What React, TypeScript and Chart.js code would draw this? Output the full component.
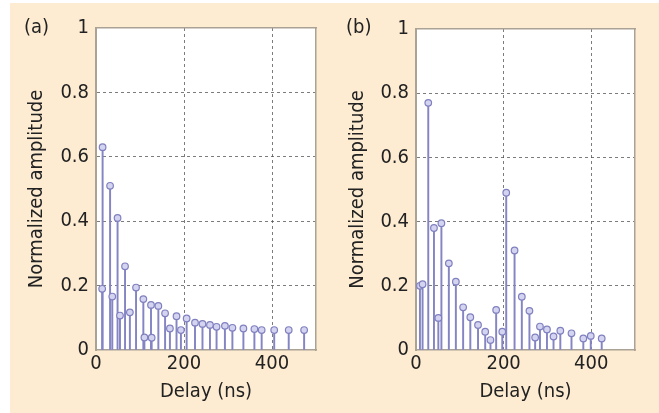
import React, { useEffect, useRef } from "react";
import { Chart, registerables } from "chart.js";

Chart.register(...registerables);

// Panel (a) – delays (ns) and normalized amplitudes
const delaysA = [14, 15, 32, 37, 49, 54.5, 66, 77, 91, 107.6, 110, 125, 126.5, 141.7, 157, 168, 183, 193, 206, 225, 242, 259, 274, 293, 310, 335, 360, 376.5, 405, 438, 473];
const ampsA = [0.19, 0.63, 0.51, 0.166, 0.41, 0.107, 0.26, 0.117, 0.194, 0.158, 0.039, 0.14, 0.038, 0.137, 0.114, 0.067, 0.105, 0.062, 0.098, 0.085, 0.081, 0.078, 0.072, 0.075, 0.069, 0.067, 0.065, 0.062, 0.062, 0.062, 0.062];

// Panel (b)
const delaysB = [9, 15, 28, 41, 51, 58, 75, 91, 107.6, 124, 141.6, 158, 170, 183, 197, 206, 225, 241.6, 259, 272, 283, 299, 314, 329.5, 355, 382, 399, 424];
const ampsB = [0.2, 0.205, 0.77, 0.38, 0.1, 0.395, 0.27, 0.213, 0.133, 0.102, 0.078, 0.057, 0.031, 0.125, 0.057, 0.49, 0.31, 0.166, 0.122, 0.039, 0.073, 0.064, 0.042, 0.06, 0.052, 0.036, 0.044, 0.036];

const xTickStep = 200;
const yTickStep = 0.2;
const xMax = 500;
const yMax = 1;
const xTitle = "Delay (ns)";
const yTitle = "Normalized amplitude";

const FONT = "'Liberation Sans Narrow', 'DejaVu Sans Condensed', 'Noto Sans', sans-serif";
const FRAME = "#aaa294";
const STEM = "#8585c4";

const whiteArea = {
  id: "whiteArea",
  beforeDraw(chart: any) {
    const { ctx, chartArea } = chart;
    ctx.save();
    ctx.fillStyle = "#ffffff";
    ctx.fillRect(chartArea.left, chartArea.top, chartArea.right - chartArea.left, chartArea.bottom - chartArea.top);
    ctx.restore();
  },
};

function makeConfig(xs: number[], ys: number[], yAxisWidth: number, rightPad: number, topPad: number, yTitlePad: number) {
  const pts = xs.map((x, i) => ({ x, y: ys[i] }));
  return {
    type: "scatter",
    data: {
      datasets: [
        {
          type: "bar",
          data: pts,
          backgroundColor: STEM,
          barThickness: 1.3,
          borderWidth: 0,
          order: 2,
        },
        {
          type: "scatter",
          data: pts,
          pointRadius: 3.3,
          pointBackgroundColor: "#d4d4f0",
          pointBorderColor: "#8080c0",
          pointBorderWidth: 1.2,
          order: 1,
        },
      ],
    },
    options: {
      responsive: false,
      animation: false,
      events: [],
      layout: { padding: { left: 0, right: rightPad, top: topPad, bottom: 0 } },
      plugins: { legend: { display: false }, tooltip: { enabled: false } },
      scales: {
        x: {
          type: "linear",
          position: "bottom",
          min: 0,
          max: xMax,
          offset: false,
          afterFit: (s: any) => { s.height = 63; },
          ticks: { stepSize: xTickStep, includeBounds: false, padding: 2, color: "#222", font: { size: 20, family: FONT }, maxRotation: 0 },
          grid: {
            offset: false,
            drawTicks: false,
            lineWidth: 1,
            color: (c: any) => (c.tick && (c.tick.value === 0 || c.tick.value === xMax) ? "transparent" : "rgba(80,80,80,0.75)"),
          },
          border: { color: FRAME, width: 1.5, dash: [3, 3] },
          title: { display: true, text: xTitle, color: "#222", font: { size: 20, family: FONT }, padding: { top: 0, bottom: 9 } },
        },
        y: {
          type: "linear",
          position: "left",
          min: 0,
          max: yMax,
          afterFit: (s: any) => { s.width = yAxisWidth; },
          ticks: {
            stepSize: yTickStep,
            padding: 7,
            color: "#222",
            font: { size: 20, family: FONT },
            callback: (v: any) => String(Number(Number(v).toFixed(1))),
          },
          grid: {
            drawTicks: false,
            lineWidth: 1,
            color: (c: any) => (c.tick && (c.tick.value === 0 || Math.abs(c.tick.value - yMax) < 1e-9) ? "transparent" : "rgba(80,80,80,0.75)"),
          },
          border: { color: FRAME, width: 2, dash: [3, 3] },
          title: { display: true, text: yTitle, color: "#222", font: { size: 20, family: FONT }, padding: { top: yTitlePad, bottom: 0 } },
        },
        x2: {
          type: "linear",
          position: "top",
          min: 0,
          max: xMax,
          afterFit: (s: any) => { s.height = 0; },
          ticks: { display: false },
          grid: { display: false, drawTicks: false },
          border: { color: FRAME, width: 1.5 },
        },
        y2: {
          type: "linear",
          position: "right",
          min: 0,
          max: yMax,
          afterFit: (s: any) => { s.width = 0; },
          ticks: { display: false },
          grid: { display: false, drawTicks: false },
          border: { color: FRAME, width: 1.5 },
        },
      },
    },
    plugins: [whiteArea],
  } as any;
}

function Panel(props: { left: number; width: number; label: string; labelLeft: number; xs: number[]; ys: number[]; yAxisWidth: number; rightPad: number; topPad: number; yTitlePad: number }) {
  const ref = useRef<HTMLCanvasElement>(null);
  useEffect(() => {
    if (!ref.current) return;
    const chart = new Chart(ref.current, makeConfig(props.xs, props.ys, props.yAxisWidth, props.rightPad, props.topPad, props.yTitlePad));
    return () => chart.destroy();
  }, []);
  return (
    <>
      <canvas
        ref={ref}
        width={props.width}
        height={413}
        style={{ position: "fixed", left: props.left, top: 0, width: props.width, height: 413 }}
      />
      <div
        style={{
          position: "fixed",
          left: props.labelLeft,
          top: 14,
          fontFamily: FONT,
          fontSize: 20,
          color: "#222",
          lineHeight: "24px",
        }}
      >
        {props.label}
      </div>
    </>
  );
}

export default function App() {
  return (
    <div>
      <div style={{ position: "fixed", left: 10, top: 3, right: 0, bottom: 0, background: "#fdecd2" }} />
      <Panel left={0} width={330} label="(a)" labelLeft={24} xs={delaysA} ys={ampsA} yAxisWidth={96} rightPad={14} topPad={28} yTitlePad={25} />
      <Panel left={330} width={329} label="(b)" labelLeft={346} xs={delaysB} ys={ampsB} yAxisWidth={86} rightPad={24} topPad={29} yTitlePad={16} />
    </div>
  );
}
